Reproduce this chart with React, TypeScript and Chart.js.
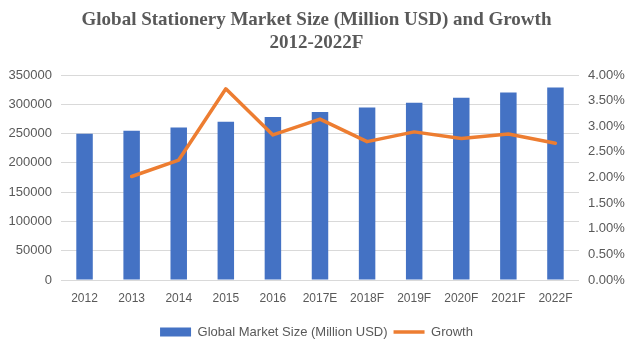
import React, { useEffect, useRef } from 'react';
import { Chart, registerables } from 'chart.js';

Chart.register(...registerables);

const categories = ['2012', '2013', '2014', '2015', '2016', '2017E', '2018F', '2019F', '2020F', '2021F', '2022F'];
const marketSize = [249500, 254800, 260500, 270000, 278500, 287000, 294500, 302800, 311200, 320000, 328500];
const growth = [null, 0.0202, 0.0234, 0.0373, 0.0283, 0.0314, 0.027, 0.0289, 0.0276, 0.0285, 0.0267];
const titleLines = ['Global Stationery Market Size (Million USD) and Growth', '2012-2022F'];
const seriesNames = ['Global Market Size (Million USD)', 'Growth'];

const TEXT = '#595959';
const BLUE = '#4472C4';
const ORANGE = '#ED7D31';

export default function App() {
  const ref = useRef<HTMLCanvasElement>(null);
  useEffect(() => {
    Chart.defaults.font.family = "'Liberation Sans', Arial, sans-serif";
    const chart = new Chart(ref.current!, {
      type: 'bar',
      data: {
        labels: categories,
        datasets: [
          {
            type: 'bar',
            label: seriesNames[0],
            data: marketSize,
            backgroundColor: BLUE,
            borderWidth: 0,
            yAxisID: 'y',
            order: 1,
            barPercentage: 0.35,
            categoryPercentage: 1,
          } as any,
          {
            type: 'line',
            label: seriesNames[1],
            data: growth,
            borderColor: ORANGE,
            backgroundColor: ORANGE,
            borderWidth: 3.5,
            pointRadius: 0,
            pointHoverRadius: 0,
            yAxisID: 'y1',
            order: 0,
            borderJoinStyle: 'round',
            borderCapStyle: 'round',
            spanGaps: false,
          } as any,
        ],
      },
      options: {
        responsive: false,
        animation: false,
        layout: { padding: { left: 8, right: 9, top: 0, bottom: 4.5 } },
        plugins: {
          tooltip: { enabled: false },
          title: {
            display: true,
            text: titleLines,
            color: TEXT,
            font: { family: "'Liberation Serif', 'Times New Roman', serif", size: 19, weight: 'bold', lineHeight: 23 / 19 },
            padding: { top: 9, bottom: 20 },
          },
          legend: {
            position: 'bottom',
            labels: {
              usePointStyle: true,
              pointStyleWidth: 31,
              boxHeight: 9,
              padding: 6,
              color: TEXT,
              font: { size: 13 },
              generateLabels: (c: any) =>
                c.data.datasets.map((ds: any, i: number) => ({
                  text: ds.label,
                  fillStyle: i === 0 ? BLUE : ORANGE,
                  strokeStyle: i === 0 ? BLUE : ORANGE,
                  lineWidth: i === 0 ? 0 : 3.5,
                  pointStyle: i === 0 ? 'rect' : 'line',
                  fontColor: TEXT,
                  hidden: false,
                  datasetIndex: i,
                })),
            },
          },
        },
        scales: {
          x: {
            grid: { display: false, drawTicks: false },
            border: { display: false },
            ticks: { color: TEXT, font: { size: 12 }, padding: 11, maxRotation: 0, autoSkip: false },
            afterFit: (s: any) => { s.height = 39.5; },
          },
          y: {
            position: 'left',
            min: 0,
            max: 350000,
            ticks: { stepSize: 50000, color: TEXT, font: { size: 13 }, padding: 9, callback: (v: any) => String(v) },
            grid: { color: '#D9D9D9', drawTicks: false, lineWidth: 1 },
            border: { display: false },
            afterFit: (s: any) => { s.width = 53; },
          },
          y1: {
            position: 'right',
            min: 0,
            max: 0.04,
            ticks: { stepSize: 0.005, color: TEXT, font: { size: 13 }, padding: 9, callback: (v: any) => (Number(v) * 100).toFixed(2) + '%' },
            grid: { drawOnChartArea: false, drawTicks: false },
            border: { display: false },
            afterFit: (s: any) => { s.width = 46; },
          },
        },
      },
    });
    return () => chart.destroy();
  }, []);
  return (
    <div style={{ position: 'fixed', left: 0, top: 0, width: 634, height: 353, background: '#fff' }}>
      <canvas ref={ref} width={634} height={353} style={{ display: 'block' }} />
    </div>
  );
}
